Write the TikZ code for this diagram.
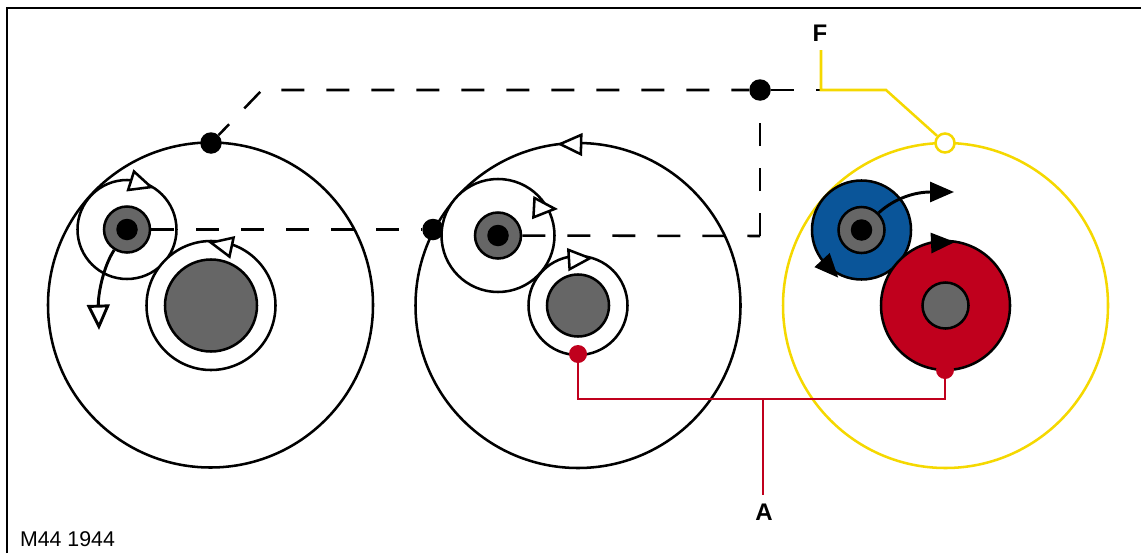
\documentclass[tikz,border=0pt]{standalone}
\usepackage{fontspec}
\setmainfont{Liberation Sans}
\usepackage{xcolor}
\usetikzlibrary{arrows.meta}
\definecolor{gearred}{HTML}{C0001D}
\definecolor{gearblue}{HTML}{0A5599}
\definecolor{geargray}{HTML}{666666}
\definecolor{gearyellow}{HTML}{F5D800}

\begin{document}
\begin{tikzpicture}[x=.75pt,y=-.75pt,
  wheel/.style={circle,draw=black,fill=white,line width=1.9pt,inner sep=0pt,minimum size=#1*.75pt},
  hub/.style={wheel=#1,fill=geargray},
  dot/.style={circle,fill=black,inner sep=0pt,minimum size=21.5*.75pt},
  reddot/.style={circle,fill=gearred,inner sep=0pt,minimum size=18*.75pt},
  rim/.style={circle,draw=gearyellow,line width=1.9pt,inner sep=0pt,minimum size=#1*.75pt},
  dashline/.style={line width=1.9pt,dash pattern=on 17.25pt off 16.5pt},
  redline/.style={gearred,line width=1.9pt},
  yellowline/.style={gearyellow,line width=1.9pt},
  openarrow/.style={line width=1.9pt,-{Triangle[open,fill=white,length=19pt,width=17pt]}},
  solidarrow/.style={line width=2.2pt,-{Triangle[length=18pt,width=15pt]}},
  label/.style={font=\fontsize{18pt}{18pt}\selectfont\bfseries,inner sep=6pt}]
\useasboundingbox (0,0) rectangle (1141,553);
\draw[line width=1.9pt] (7,553) -- (7,8) -- (1141,8);

% outer circles
\node[wheel=325,fill=none] (outerl) at (210.5,305) {};
\node[wheel=325,fill=none] (outerm) at (578,305.5) {};
\node[rim=325] (outerr) at (945.5,305.5) {};

% dots on the lines
\node[dot] (dotl) at (211,143) {};
\node[dot] (dotm) at (433,229.5) {};
\node[dot] (dott) at (760,90) {};
\coordinate (bend) at (262,90);
\coordinate (corner) at (760,236);

% left set
\node[wheel=99] (planetl) at (127,229.5) {};
\node[wheel=129] (ringl) at (211,305.5) {};
\node[hub=92] (sunl) at (211,305.5) {};
\node[hub=46] (hubl) at (127,229.5) {};
\node[dot] (pinl) at (127,229.5) {};

% middle set
\node[wheel=113] (planetm) at (498,235.5) {};
\node[wheel=99] (ringm) at (578,305.5) {};
\node[hub=62] (sunm) at (578,305.5) {};
\node[hub=46] (hubm) at (498,235.5) {};
\node[dot] (pinm) at (498,235.5) {};
\node[reddot] (redm) at (578,354) {};

% right set
\node[wheel=99,fill=gearblue] (planetr) at (861.5,230) {};
\node[wheel=129,fill=gearred] (ringr) at (945.5,305.5) {};
\node[hub=46] (sunr) at (945.5,305.5) {};
\node[hub=46] (hubr) at (861.5,230) {};
\node[dot] (pinr) at (861.5,230) {};
\node[reddot] (redr) at (945,370) {};
\node[circle,draw=gearyellow,fill=white,line width=1.9pt,inner sep=0pt,minimum size=19*.75pt] (openr) at (945,143) {};

% dashed carrier lines
\draw[dashline] (hubl) -- (dotm);
\draw[dashline,dash phase=6pt] (dotl) -- (bend) -- (dott);
\draw[dashline] (hubm) -- (corner);
\draw[dashline] (corner) -- (dott);
\draw[dashline] (dott) -- (821,90);

% labels and leaders
\node[label] (labf) at (820,33) {F};
\node[label] (laba) at (764,512) {A};
\coordinate (kneef) at (821,90);
\coordinate (kneey) at (886,90);
\draw[yellowline] (821,50) -- (kneef) -- (kneey) -- (openr);
\coordinate (teea) at (763,399);
\draw[redline] (redm) |- (teea) -| (redr);
\draw[redline] (teea) -- (763,495);
\node[font=\fontsize{16pt}{16pt}\selectfont,inner sep=0pt] (code) at (67.5,539) {M44 1944};

% open arrows
\draw[openarrow] (133.5,181.5) -- (154,188);
\draw[openarrow] (231,247) -- (208,242);
\draw[openarrow] (579.5,144.5) -- (557,144);
\draw[openarrow] (540,208) -- (558,209);
\draw[openarrow] (569.5,259.5) -- (593,258);
\draw[openarrow,line width=2.2pt] (hubl.238) .. controls (103,267) and (98,295) .. (99,330);

% solid arrows
\draw[solidarrow] (hubr.45) .. controls (895,198) and (915,192) .. (954,192);
\draw[solidarrow] (931.5,243) -- (955,242);
\draw[solidarrow] (822,260) -- (838.3,277.7);
\end{tikzpicture}
\end{document}
